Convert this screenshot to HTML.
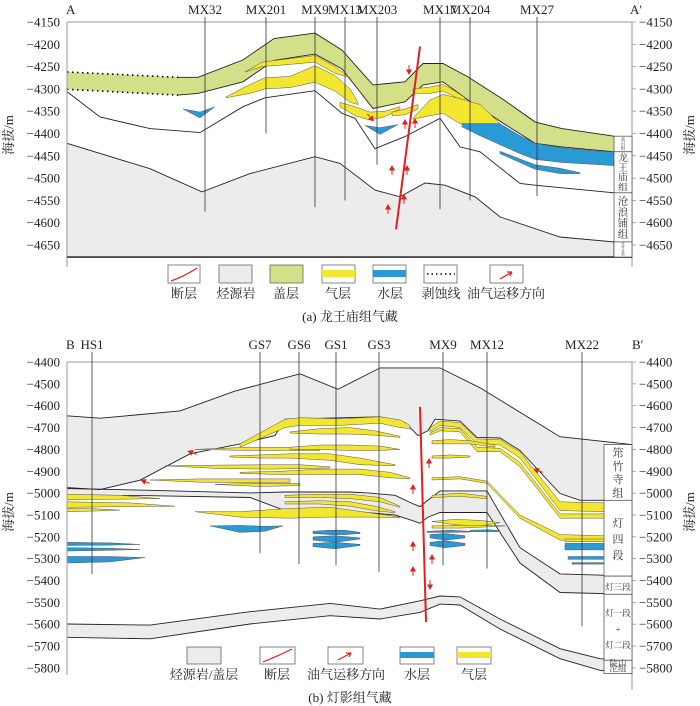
<!DOCTYPE html>
<html><head><meta charset="utf-8"><style>
html,body{margin:0;padding:0;background:#fff;}
svg{display:block;font-family:"Liberation Serif","Noto Serif CJK SC",serif;}
</style></head><body>
<svg id="fig" width="700" height="706" viewBox="0 0 700 706" xmlns="http://www.w3.org/2000/svg">
<g id="top"></g>
<g id="bot"></g>
<g id="static">
  <!-- panel a legend -->
  <g stroke="#666" stroke-width="0.8">
    <rect x="168" y="265" width="32" height="18" fill="#fff"/>
    <path d="M171 281 Q185 276 197 268" stroke="#e0201e" stroke-width="1.2" fill="none"/>
    <rect x="219" y="265" width="33" height="18" fill="#ececec"/>
    <rect x="270" y="265" width="33" height="18" fill="#d4df8a"/>
    <rect x="322" y="265" width="33" height="18" fill="#fff"/>
    <rect x="322" y="270" width="33" height="7" fill="#f3e62e" stroke="none"/>
    <rect x="373" y="265" width="33" height="18" fill="#fff"/>
    <rect x="373" y="270" width="33" height="7" fill="#2a9ad6" stroke="none"/>
    <rect x="424" y="265" width="33" height="18" fill="#fff"/>
    <line x1="427" y1="274" x2="455" y2="274" stroke="#000" stroke-width="1.6" stroke-dasharray="1.5 3"/>
    <rect x="490" y="265" width="33" height="18" fill="#fff"/>
    <path d="M500 279 L512 272 M512 272 l-5 0 M512 272 l-2 4" stroke="#e0201e" stroke-width="1.2" fill="none"/>
  </g>
  <g font-size="13" fill="#222" text-anchor="middle">
    <text x="184" y="298">断层</text>
    <text x="236" y="298">烃源岩</text>
    <text x="286" y="298">盖层</text>
    <text x="338" y="298">气层</text>
    <text x="390" y="298">水层</text>
    <text x="441" y="298">剥蚀线</text>
    <text x="506" y="298">油气运移方向</text>
    <text x="350" y="321">(a) 龙王庙组气藏</text>
  </g>
  <!-- panel b legend -->
  <g stroke="#666" stroke-width="0.8">
    <rect x="187" y="647" width="34" height="17" fill="#ececec"/>
    <rect x="260" y="647" width="35" height="17" fill="#fff"/>
    <path d="M263 662 Q278 656 292 649" stroke="#e0201e" stroke-width="1.2" fill="none"/>
    <rect x="328" y="647" width="35" height="17" fill="#fff"/>
    <path d="M338 660 L351 653 M351 653 l-5 0 M351 653 l-2 4" stroke="#e0201e" stroke-width="1.2" fill="none"/>
    <rect x="400" y="647" width="34" height="17" fill="#fff"/>
    <rect x="400" y="652" width="34" height="6" fill="#2a9ad6" stroke="none"/>
    <rect x="457" y="647" width="34" height="17" fill="#fff"/>
    <rect x="457" y="652" width="34" height="6" fill="#f3e62e" stroke="none"/>
  </g>
  <g font-size="13" fill="#222" text-anchor="middle">
    <text x="204" y="679">烃源岩/盖层</text>
    <text x="277" y="679">断层</text>
    <text x="346" y="679">油气运移方向</text>
    <text x="417" y="679">水层</text>
    <text x="474" y="679">气层</text>
    <text x="350" y="702">(b) 灯影组气藏</text>
  </g>
</g>
</svg>
<script>
// ---------- Panel A data ----------
const aTicks = [-4150,-4200,-4250,-4300,-4350,-4400,-4450,-4500,-4550,-4600,-4650];
const aWells = ["MX32","MX201","MX9","MX13","MX203","MX17","MX204","MX27"];
const aWellX = [205,266,315,345,377,440,470,537];
const aWellBase = [-4575,-4400,-4565,-4550,-4470,-4570,-4550,-4540];
const aCapX = [67,178,198,243,274,315,342,373,405,423,443,468,504,535,562,614];
const aCapTop = [-4262,-4274,-4274,-4235,-4187,-4175,-4213,-4291,-4284,-4243,-4243,-4273,-4325,-4374,-4389,-4406];
const aCapBot = [-4301,-4314,-4310,-4284,-4236,-4222,-4255,-4344,-4329,-4291,-4284,-4325,-4378,-4422,-4430,-4441];
const aBaseX = [67,100,150,200,243,265,315,342,355,375,405,440,460,480,520,535,614];
const aBase = [-4306,-4363,-4389,-4398,-4340,-4320,-4304,-4355,-4366,-4434,-4407,-4366,-4430,-4441,-4512,-4516,-4533];
const aSrcX = [67,150,202,250,315,340,375,400,425,445,475,500,560,614];
const aSrc = [-4422,-4479,-4531,-4490,-4452,-4467,-4527,-4542,-4511,-4516,-4542,-4587,-4632,-4643];
const aFloor = -4677;
const aGas = [
 [[245,262,290,315,335,350],[-4262,-4240,-4232,-4225,-4250,-4275],[-4262,-4250,-4245,-4240,-4265,-4275]],
 [[226,250,265,290,315,335,350,358],[-4318,-4290,-4275,-4272,-4248,-4270,-4300,-4330],[-4320,-4310,-4300,-4297,-4285,-4305,-4330,-4335]],
 [[340,355,370,385,400],[-4330,-4340,-4352,-4350,-4340],[-4340,-4360,-4370,-4362,-4345]],
 [[392,405,418],[-4352,-4345,-4335],[-4360,-4358,-4345]],
 [[413,430,443,455,465],[-4300,-4296,-4290,-4305,-4320],[-4310,-4310,-4305,-4318,-4330]],
 [[413,430,443,460,480,500],[-4365,-4325,-4312,-4322,-4335,-4378],[-4368,-4360,-4355,-4378,-4378,-4378]]
];
const aWater = [
 [[462,480,500,520,535,562,600,614],[-4378,-4378,-4378,-4405,-4422,-4432,-4440,-4441],[-4385,-4405,-4425,-4445,-4458,-4465,-4470,-4472]],
 [[500,535,560,580],[-4440,-4470,-4478,-4488],[-4445,-4480,-4490,-4490]],
 [[183,200,215],[-4345,-4352,-4340],[-4345,-4365,-4340]],
 [[365,380,398],[-4382,-4387,-4380],[-4382,-4402,-4380]]
];
const aFault = [[420,-4205],[396,-4615]];
const aFormations = ["高台组","龙王庙组","沧浪铺组","筇竹寺组"];
const aFormTop = [-4406,-4441,-4533,-4643];
const aFormBot = [-4441,-4533,-4643,-4677];

// ---------- Panel B data ----------
const bTicks = [-4400,-4500,-4600,-4700,-4800,-4900,-5000,-5100,-5200,-5300,-5400,-5500,-5600,-5700,-5800];
const bWells = ["HS1","GS7","GS6","GS1","GS3","MX9","MX12","MX22"];
const bWellX = [92,260,299,336,379,443,487,582];
const bWellBase = [-5370,-5275,-5325,-5330,-5360,-5330,-5345,-5610];
const bTopX = [67,100,180,235,300,338,380,440,480,560,632];
const bTop = [-4646,-4657,-4624,-4533,-4454,-4525,-4427,-4427,-4518,-4742,-4778];
const bDTX = [67,100,140,190,240,275,285,380,405,418,428,435,460,477,500,520,560,580,632];
const bDT = [-4975,-4984,-4941,-4820,-4775,-4737,-4662,-4651,-4677,-4737,-4714,-4662,-4670,-4745,-4748,-4805,-5002,-5033,-5033];
const bMidX = [67,150,250,285,300,350,370,395,412,420,428,440,487,520,560,632];
const bMidTop = [-4979,-4987,-4999,-4995,-4995,-4995,-5000,-5010,-5047,-5062,-5032,-4990,-4990,-5250,-5370,-5380];
const bMidBot = [-5009,-5012,-5020,-5080,-5085,-5085,-5090,-5100,-5125,-5138,-5110,-5089,-5089,-5320,-5455,-5463];
const bLowX = [67,150,250,330,380,420,440,460,500,560,600,632];
const bLowTop = [-5599,-5604,-5543,-5505,-5531,-5493,-5471,-5475,-5576,-5712,-5758,-5765];
const bLowBot = [-5660,-5667,-5599,-5561,-5576,-5546,-5508,-5512,-5622,-5758,-5811,-5826];
const bGas = [
 [[67,120,160],[-5005,-5010,-5025],[-5030,-5028,-5025]],
 [[67,130,175],[-5040,-5045,-5060],[-5065,-5062,-5060]],
 [[67,95,120],[-5070,-5072,-5078],[-5085,-5082,-5078]],
 [[150,200,250,290],[-4940,-4935,-4935,-4935],[-4940,-4950,-4952,-4950]],
 [[165,220,270,300,330],[-4875,-4872,-4870,-4870,-4880],[-4875,-4888,-4890,-4888,-4885]],
 [[195,250,285,320],[-4800,-4790,-4790,-4800],[-4800,-4805,-4805,-4805]],
 [[240,285,300,340,380,400,410],[-4775,-4662,-4655,-4660,-4651,-4665,-4690],[-4790,-4700,-4690,-4690,-4680,-4700,-4705]],
 [[290,320,350,375,400],[-4720,-4705,-4700,-4715,-4740],[-4725,-4730,-4730,-4735,-4745]],
 [[290,320,350,380,400],[-4790,-4780,-4780,-4785,-4800],[-4800,-4800,-4805,-4805,-4800]],
 [[230,260,290,330,360,395],[-4830,-4825,-4820,-4820,-4840,-4870],[-4835,-4840,-4840,-4850,-4870,-4875]],
 [[240,280,320,360,390,410],[-4905,-4900,-4890,-4890,-4905,-4930],[-4910,-4915,-4915,-4915,-4930,-4935]],
 [[215,260,300],[-4960,-4955,-4955],[-4960,-4970,-4965]],
 [[285,320,350,380,400],[-5010,-5005,-5005,-5020,-5060],[-5020,-5020,-5025,-5040,-5065]],
 [[285,320,350,375,395],[-5040,-5035,-5040,-5060,-5085],[-5050,-5050,-5060,-5080,-5090]],
 [[195,240,290,330,370,400],[-5085,-5085,-5070,-5065,-5090,-5110],[-5085,-5110,-5115,-5110,-5110,-5112]],
 [[430,440,460,477,500,520,560,605],[-4700,-4670,-4678,-4752,-4755,-4812,-5040,-5045],[-4720,-4690,-4700,-4775,-4780,-4840,-5080,-5085]],
 [[430,440,460,477,500,520,560,605],[-4725,-4700,-4705,-4790,-4795,-4860,-5095,-5095],[-4735,-4715,-4720,-4810,-4810,-4880,-5115,-5115]],
 [[432,450,470,495],[-4760,-4755,-4760,-4780],[-4775,-4775,-4775,-4790]],
 [[432,450,470],[-4830,-4825,-4830],[-4840,-4840,-4835]],
 [[432,460,487,520,560,605],[-4930,-4925,-4945,-5100,-5190,-5195],[-4940,-4935,-4955,-5115,-5215,-5220]],
 [[432,460,487],[-5010,-5000,-5015],[-5020,-5015,-5025]],
 [[432,455,480,500],[-5130,-5120,-5125,-5135],[-5130,-5145,-5150,-5135]],
 [[432,460,485,505],[-5150,-5147,-5148,-5150],[-5160,-5160,-5155,-5150]],
 [[565,605],[-5210,-5210],[-5222,-5222]]
];
const bWater = [
 [[67,110,140],[-5225,-5228,-5235],[-5240,-5238,-5235]],
 [[67,110,140],[-5250,-5252,-5258],[-5265,-5262,-5258]],
 [[67,110,145],[-5290,-5290,-5295],[-5320,-5315,-5295]],
 [[210,240,265,283],[-5150,-5148,-5152,-5150],[-5150,-5180,-5175,-5150]],
 [[313,330,345,360],[-5175,-5170,-5170,-5180],[-5185,-5190,-5190,-5185]],
 [[313,335,360],[-5200,-5195,-5205],[-5215,-5225,-5210]],
 [[313,335,360],[-5230,-5225,-5235],[-5245,-5255,-5240]],
 [[427,450,470],[-5175,-5170,-5175],[-5180,-5180,-5178]],
 [[430,445,465],[-5190,-5185,-5195],[-5205,-5215,-5205]],
 [[430,445,465],[-5225,-5218,-5230],[-5240,-5250,-5240]],
 [[470,490,500],[-5170,-5168,-5172],[-5176,-5176,-5176]],
 [[565,605],[-5230,-5230],[-5260,-5260]],
 [[568,605],[-5290,-5290],[-5303,-5303]],
 [[572,605],[-5318,-5318],[-5325,-5325]]
];
const bFault = [[420,-4605],[426,-5590]];
const bFormations = ["筇竹寺组","灯四段","灯三段","灯一段+灯二段","陡山沱组"];
const bFormTop = [-4778,-5033,-5380,-5463,-5765];
const bFormBot = [-5033,-5380,-5463,-5765,-5826];

// ---------- scales ----------
const yA = d => 22 + (-4150 - d) * 0.446;
const yB = d => 362 + (-4400 - d) * 0.2185;
const NS = "http://www.w3.org/2000/svg";
function mk(parent, tag, attrs){const e=document.createElementNS(NS,tag);for(const k in attrs)e.setAttribute(k,attrs[k]);parent.appendChild(e);return e;}
function line(xs, ds, y){return xs.map((x,i)=>(i?"L":"M")+x+" "+y(ds[i]).toFixed(1)).join(" ");}
function band(xs, t, b, y){let p=line(xs,t,y);for(let i=xs.length-1;i>=0;i--)p+=" L"+xs[i]+" "+y(b[i]).toFixed(1);return p+" Z";}
function floorPoly(xs, t, y, floorD){return line(xs,t,y)+" L"+xs[xs.length-1]+" "+y(floorD)+" L"+xs[0]+" "+y(floorD)+" Z";}
function arrow(g, x, y, ang, name){
  const a = mk(g,"path",{d:"M0 4 L0 -3 M-2.2 -1 L0 -5 L2.2 -1 Z",transform:`translate(${x},${y}) rotate(${ang})`,stroke:"#e0201e","stroke-width":"1",fill:"#e0201e"});
  
  
}

// ---------- Panel A ----------
(function(){
  const g = document.getElementById("top");
  let e;
  e = mk(g,"path",{d:floorPoly(aSrcX,aSrc,yA,aFloor),fill:"#ececec",stroke:"#222","stroke-width":"0.9"});
  
  
  e = mk(g,"path",{d:band(aCapX,aCapTop,aCapBot,yA),fill:"#d4df8a",stroke:"none"});
  
  
  e = mk(g,"path",{d:line(aCapX.slice(1),aCapTop.slice(1),yA),fill:"none",stroke:"#222","stroke-width":"0.9"});
  
  
  e = mk(g,"path",{d:line(aCapX.slice(1),aCapBot.slice(1),yA),fill:"none",stroke:"#222","stroke-width":"0.9"});
  
  
  e = mk(g,"path",{d:line(aCapX.slice(0,2),aCapTop.slice(0,2),yA)+" "+line(aCapX.slice(0,2),aCapBot.slice(0,2),yA),fill:"none",stroke:"#000","stroke-width":"1.6","stroke-dasharray":"1.5 3.5"});
  
  
  e = mk(g,"path",{d:line(aBaseX,aBase,yA),fill:"none",stroke:"#222","stroke-width":"0.9"});
  
  
  aGas.forEach((L,i)=>{
    const p = mk(g,"path",{d:band(L[0],L[1],L[2],yA),fill:"#f3e62e",stroke:"#555","stroke-width":"0.5"});
    
    
  });
  aWater.forEach((L,i)=>{
    const p = mk(g,"path",{d:band(L[0],L[1],L[2],yA),fill:"#2a9ad6",stroke:"#555","stroke-width":"0.5"});
    
    
  });
  // frame
  e = mk(g,"path",{d:"M67 22 H632 M67 22 V267 M632 22 V267",stroke:"#999","stroke-width":"1",fill:"none"});
  
  
  e = mk(g,"line",{x1:67,x2:632,y1:yA(aFloor),y2:yA(aFloor),stroke:"#333","stroke-width":"1.6"});
  
  
  // wells
  aWells.forEach((w,i)=>{
    const l = mk(g,"line",{x1:aWellX[i],x2:aWellX[i],y1:17,y2:yA(aWellBase[i]),stroke:"#333","stroke-width":"0.8"});
    
    
    const t = mk(g,"text",{x:aWellX[i],y:14,"text-anchor":"middle","font-size":"13",fill:"#222"});
    t.textContent = w;
    
    
  });
  // fault
  e = mk(g,"line",{x1:aFault[0][0],y1:yA(aFault[0][1]),x2:aFault[1][0],y2:yA(aFault[1][1]),stroke:"#e0201e","stroke-width":"2"});
  
  
  arrow(g,409,69,180,'fault-slip-arrow-a');
  arrow(g,370,117,140,'migration-arrow-a1');
  arrow(g,405,125,0,'migration-arrow-a2');
  arrow(g,415,124,0,'migration-arrow-a3');
  arrow(g,392,171,0,'migration-arrow-a4');
  arrow(g,407,171,0,'migration-arrow-a5');
  arrow(g,388,210,0,'migration-arrow-a6');
  arrow(g,404,200,0,'migration-arrow-a7');
  // ticks
  aTicks.forEach((v,i)=>{
    const y = yA(v);
    const t1 = mk(g,"text",{x:60,y:y+4.5,"text-anchor":"end","font-size":"13",fill:"#222"});
    t1.textContent = "\u2212"+Math.abs(v);
    
    
    const t2 = mk(g,"text",{x:639,y:y+4.5,"text-anchor":"start","font-size":"13",fill:"#222"});
    t2.textContent = "\u2212"+Math.abs(v);
    
    
    const m = mk(g,"line",{x1:632,x2:636,y1:y,y2:y,stroke:"#999","stroke-width":"0.8"});
    
    
  });
  // formation column
  aFormations.forEach((f,i)=>{
    const y0=yA(aFormTop[i]), y1=yA(aFormBot[i]);
    const r = mk(g,"rect",{x:614,y:y0,width:18,height:y1-y0,fill:"#fff",stroke:"#444","stroke-width":"0.7"});
    
    
    const n = f.length, step=Math.min(11,(y1-y0-2)/n), fs=Math.min(10.5,step);
    const t = mk(g,"text",{x:623,"text-anchor":"middle","font-size":fs,fill:"#333"});
    
    
    [...f].forEach((ch,k)=>{const s=mk(t,"tspan",{x:623,y:(y0+y1)/2-(n*step)/2+step*(k+0.85)});s.textContent=ch;});
  });
  let t = mk(g,"text",{x:66,y:14,"font-size":"13",fill:"#222"}); t.textContent="A";
  
  
  t = mk(g,"text",{x:630,y:14,"font-size":"13",fill:"#222"}); t.textContent="A\u2032";
  
  
  t = mk(g,"text",{x:0,y:0,"font-size":"13",fill:"#222",transform:"translate(13,135) rotate(-90)","text-anchor":"middle"}); t.textContent="海拔/m";
  
  
  t = mk(g,"text",{x:0,y:0,"font-size":"13",fill:"#222",transform:"translate(694,135) rotate(-90)","text-anchor":"middle"}); t.textContent="海拔/m";
  
  
})();

// ---------- Panel B ----------
(function(){
  const g = document.getElementById("bot");
  let e;
  e = mk(g,"path",{d:band(bTopX,bTop,bTop,yB).slice(0,0)+line(bTopX,bTop,yB)+" L632 "+yB(-5033)+" L580 "+yB(-5033)+" L560 "+yB(-5002)+" L520 "+yB(-4805)+" "+[...bDTX].reverse().slice(4).map((x,i)=>"L"+x+" "+yB([...bDT].reverse().slice(4)[i]).toFixed(1)).join(" ")+" Z",fill:"#ececec",stroke:"none"});
  
  
  e = mk(g,"path",{d:band(bMidX,bMidTop,bMidBot,yB),fill:"#ececec",stroke:"none"});
  
  
  e = mk(g,"path",{d:band(bLowX,bLowTop,bLowBot,yB),fill:"#ececec",stroke:"none"});
  
  
  [[bTopX,bTop,'top-line'],[bDTX,bDT,'dengying-top-line'],[bMidX,bMidTop,'deng4-base-line'],[bMidX,bMidBot,'deng3-base-line'],[bLowX,bLowTop,'deng-lower-top-line'],[bLowX,bLowBot,'doushantuo-base-line']].forEach(L=>{
    const p = mk(g,"path",{d:line(L[0],L[1],yB),fill:"none",stroke:"#222","stroke-width":"0.9"});
    
    
  });
  bGas.forEach((L,i)=>{
    const p = mk(g,"path",{d:band(L[0],L[1],L[2],yB),fill:"#f3e62e",stroke:"#555","stroke-width":"0.5"});
    
    
  });
  bWater.forEach((L,i)=>{
    const p = mk(g,"path",{d:band(L[0],L[1],L[2],yB),fill:"#2a9ad6",stroke:"#555","stroke-width":"0.5"});
    
    
  });
  e = mk(g,"path",{d:"M67 362 H632 M67 362 V675 M632 362 V690",stroke:"#999","stroke-width":"1",fill:"none"});
  
  
  bWells.forEach((w,i)=>{
    const l = mk(g,"line",{x1:bWellX[i],x2:bWellX[i],y1:352,y2:yB(bWellBase[i]),stroke:"#333","stroke-width":"0.8"});
    
    
    const t = mk(g,"text",{x:bWellX[i],y:349,"text-anchor":"middle","font-size":"13",fill:"#222"});
    t.textContent = w;
    
    
  });
  e = mk(g,"line",{x1:bFault[0][0],y1:yB(bFault[0][1]),x2:bFault[1][0],y2:yB(bFault[1][1]),stroke:"#e0201e","stroke-width":"2"});
  
  
  arrow(g,146,482,-70,'migration-arrow-b1');
  arrow(g,193,453,-70,'migration-arrow-b2');
  arrow(g,539,471,-70,'migration-arrow-b3');
  arrow(g,429,464,0,'migration-arrow-b4');
  arrow(g,413,490,0,'migration-arrow-b5');
  arrow(g,413,547,0,'migration-arrow-b6');
  arrow(g,413,572,0,'migration-arrow-b7');
  arrow(g,432,560,0,'migration-arrow-b8');
  arrow(g,430,584,180,'fault-slip-arrow-b');
  bTicks.forEach(v=>{
    const y = yB(v);
    const t1 = mk(g,"text",{x:60,y:y+4.5,"text-anchor":"end","font-size":"13",fill:"#222"});
    t1.textContent = "\u2212"+Math.abs(v);
    
    
    const t2 = mk(g,"text",{x:639,y:y+4.5,"text-anchor":"start","font-size":"13",fill:"#222"});
    t2.textContent = "\u2212"+Math.abs(v);
    
    
    const m = mk(g,"line",{x1:632,x2:636,y1:y,y2:y,stroke:"#999","stroke-width":"0.8"});
    
    
  });
  bFormations.forEach((f,i)=>{
    const y0=yB(bFormTop[i]), y1=yB(bFormBot[i]);
    const r = mk(g,"rect",{x:604,y:y0,width:28,height:y1-y0,fill:"#fff",stroke:"#444","stroke-width":"0.7"});
    
    
    let rows;
    if (f==="灯三段") rows=["灯三段"]; else if (f==="灯一段+灯二段") rows=["灯一段","+","灯二段"]; else if (f==="陡山沱组") rows=["陡山","沱组"]; else rows=[...f];
    const n=rows.length, step=Math.min(16,(y1-y0-2)/n), fs=rows[0].length>1?8.5:11;
    const t = mk(g,"text",{x:618,"text-anchor":"middle","font-size":fs,fill:"#333"});
    
    
    rows.forEach((ch,k)=>{const s=mk(t,"tspan",{x:618,y:(y0+y1)/2-(n*step)/2+step*(k+0.8)});s.textContent=ch;});
  });
  let t = mk(g,"text",{x:66,y:349,"font-size":"13",fill:"#222"}); t.textContent="B";
  
  
  t = mk(g,"text",{x:632,y:349,"font-size":"13",fill:"#222"}); t.textContent="B\u2032";
  
  
  t = mk(g,"text",{x:0,y:0,"font-size":"13",fill:"#222",transform:"translate(13,512) rotate(-90)","text-anchor":"middle"}); t.textContent="海拔/m";
  
  
  t = mk(g,"text",{x:0,y:0,"font-size":"13",fill:"#222",transform:"translate(694,512) rotate(-90)","text-anchor":"middle"}); t.textContent="海拔/m";
  
  
})();
</script>
</body></html>
